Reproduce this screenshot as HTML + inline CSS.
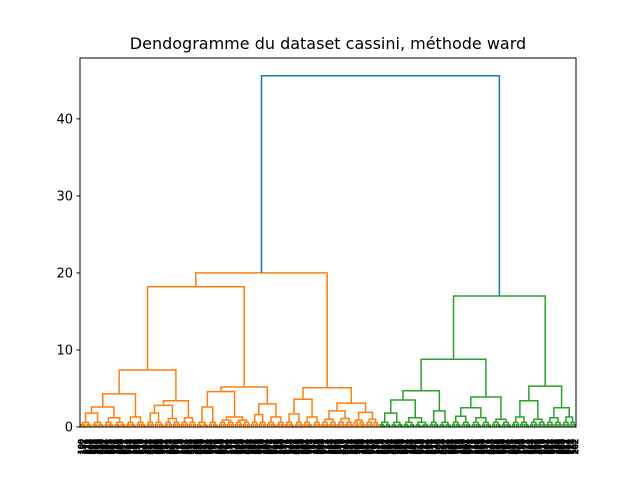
<!DOCTYPE html>
<html><head><meta charset="utf-8"><style>
body{margin:0;background:#fff}
svg{display:block;font-family:"DejaVu Sans","Liberation Sans",sans-serif}
</style></head><body>
<svg id="chart" width="640" height="480" viewBox="0 0 640 480">
<rect x="0" y="0" width="640" height="480" fill="#fff"/>
<text x="328" y="49" font-size="16" text-anchor="middle" fill="#000">Dendogramme du dataset cassini, méthode ward</text>
<g id="links"></g>
<g id="labels"></g>
<g id="yaxis"></g>
<rect x="80" y="58" width="496" height="369" fill="none" stroke="#000" stroke-width="1"/>
</svg>
<script>
// Tree data: [height, left, right]; a number = leaf group of n leaves
const orangeTree = [20.0,
  [18.2,
    [7.4,
      [4.3, [2.6, [1.8, 6, 6], [1.2, 5, 6]], [1.3, 5, 5]],
      [3.4, [2.8, [1.8, 4, 5], [1.1, 4, 4]], [1.2, 4, 4]]],
    [5.2,
      [4.6, [2.6, 6, 5], [1.3, [0.9, 4, 4], [0.9, 4, 4]]],
      [3.0, [1.6, 4, 4], [1.3, 5, 4]]]],
  [5.1,
    [3.6, [1.7, 5, 4], [1.3, 5, 4]],
    [3.1, [2.1, [1.0, 4, 4], [1.1, 4, 4]], [1.9, [0.9, 3, 3], [1.0, 4, 3]]]]];
const greenTree = [17.0,
  [8.8,
    [4.7, [3.5, [1.8, 6, 6], [1.2, 6, 7]], [2.1, 5, 6]],
    [3.9, [2.5, [1.4, 5, 5], [1.2, 5, 5]], [1.0, 5, 5]]],
  [5.3,
    [3.4, [1.3, 4, 5], [1.0, 4, 4]],
    [2.5, [1.2, 4, 4], [1.3, 4, 3]]]];
const rootHeight = 45.6;
const yTicks = [0, 10, 20, 30, 40];
const yMax = 47.9;

const NS = "http://www.w3.org/2000/svg";
const X0 = 80, X1 = 576, Y0 = 427, Y1 = 58;
function countLeaves(t){ return typeof t === "number" ? t : countLeaves(t[1]) + countLeaves(t[2]); }
const N = countLeaves(orangeTree) + countLeaves(greenTree);
const xs = i => X0 + (5 + 10 * i) / (10 * N) * (X1 - X0);
const ys = v => Y0 - v / yMax * (Y0 - Y1);
const links = document.getElementById("links");
let leafIdx = 0;
function link(xl, hl, xr, hr, h, color, name){
  const p = document.createElementNS(NS, "polyline");
  p.setAttribute("points", `${xl},${ys(hl)} ${xl},${ys(h)} ${xr},${ys(h)} ${xr},${ys(hr)}`);
  p.setAttribute("fill", "none");
  p.setAttribute("stroke", color);
  p.setAttribute("stroke-width", "1.5");
  
  
  links.appendChild(p);
}
function group(n, h, color){
  if (n === 1){ const x = xs(leafIdx); leafIdx++; return {x, h:0}; }
  const a = Math.floor(n/2);
  const l = group(a, h*0.5, color), r = group(n-a, h*0.5, color);
  link(l.x, l.h, r.x, r.h, h, color, "leaf-cluster-link");
  return {x:(l.x+r.x)/2, h};
}
function draw(t, color){
  if (typeof t === "number") return group(t, 0.6, color);
  const l = draw(t[1], color), r = draw(t[2], color);
  link(l.x, l.h, r.x, r.h, t[0], color, "cluster-link");
  return {x:(l.x+r.x)/2, h:t[0]};
}
const o = draw(orangeTree, "#ff7f0e");
const g = draw(greenTree, "#2ca02c");
link(o.x, o.h, g.x, g.h, rootHeight, "#1f77b4", "root-link");

// leaf labels
const labels = document.getElementById("labels");
for (let i = 0; i < N; i++){
  const t = document.createElementNS(NS, "text");
  const x = xs(i) + 2.8;
  t.setAttribute("x", x); t.setAttribute("y", 439);
  t.setAttribute("transform", `rotate(-90 ${x} 439)`);
  t.setAttribute("text-anchor", "end");
  t.setAttribute("font-size", "8");
  t.setAttribute("fill", "#000");
  t.setAttribute("stroke", "#000");
  t.setAttribute("stroke-width", "0.8");
  
  
  t.textContent = String(100 + (i * 37) % 900);
  labels.appendChild(t);
}
// y axis
const yaxis = document.getElementById("yaxis");
yTicks.forEach(v => {
  const y = ys(v);
  const ln = document.createElementNS(NS, "line");
  ln.setAttribute("x1", X0 - 3.5); ln.setAttribute("x2", X0);
  ln.setAttribute("y1", y); ln.setAttribute("y2", y);
  ln.setAttribute("stroke", "#000");
  
  
  yaxis.appendChild(ln);
  const tx = document.createElementNS(NS, "text");
  tx.setAttribute("x", X0 - 7); tx.setAttribute("y", y + 4.5);
  tx.setAttribute("text-anchor", "end"); tx.setAttribute("font-size", "13");
  
  
  tx.textContent = v;
  yaxis.appendChild(tx);
});
</script>
</body></html>
